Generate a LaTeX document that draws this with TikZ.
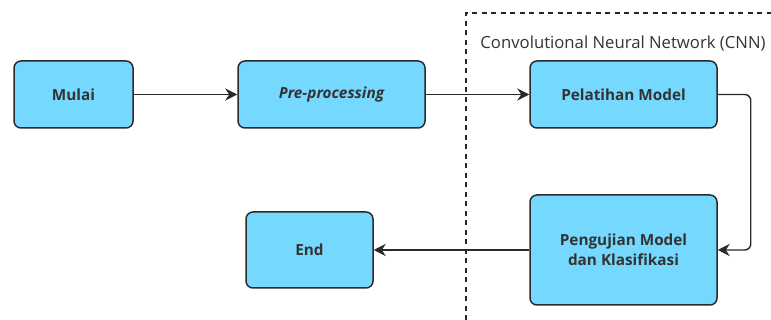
\documentclass[tikz,border=0pt]{standalone}
\usepackage{fontspec}
\setmainfont{Open Sans}
\usetikzlibrary{arrows.meta,positioning}
\definecolor{boxfill}{HTML}{74D8FF}
\definecolor{boxline}{HTML}{2A2A2A}
\definecolor{txt}{HTML}{333333}
\begin{document}
\begin{tikzpicture}[x=1pt,y=-1pt,
  procbox/.style={draw=boxline,line width=1.5pt,fill=boxfill,rounded corners=7pt,
    minimum width=#1,inner sep=0pt,align=center,text=txt,font=\fontsize{15.3}{20}\selectfont\bfseries},
  conn/.style={draw=boxline,line width=1.4pt,-{Stealth[length=12pt,width=12pt,inset=4pt]}},
  frame/.style={draw=black!85,line width=1.2pt,dash pattern=on 5pt off 4.5pt}]
\useasboundingbox (0,0) rectangle (771,320);
\draw[frame] (466,330) -- (466,13) -- (780,13);
\node[text=txt,font=\fontsize{16.7}{20}\selectfont,anchor=center] (cnn) at (623,43) {Convolutional Neural Network (CNN)};
\node[procbox=119pt,minimum height=67pt] (mulai) at (73.5,94.5) {Mulai};
\node[procbox=187pt,minimum height=67pt] (pre) at (331.5,94.5) {\itshape Pre-processing};
\node[procbox=187pt,minimum height=67pt] (latih) at (623.5,94.5) {Pelatihan Model};
\node[procbox=187pt,minimum height=110pt] (uji) at (623.5,250) {Pengujian Model\\dan Klasifikasi};
\node[procbox=127pt,minimum height=76pt] (end) at (309.5,250) {End};
\draw[conn] (mulai.east) -- (pre.west);
\draw[conn] (pre.east) -- (latih.west);
\draw[conn,rounded corners=6pt] (latih.east) -- ++(33,0) |- (uji.east);
\draw[conn] (uji.west) -- (end.east);
\end{tikzpicture}
\end{document}
